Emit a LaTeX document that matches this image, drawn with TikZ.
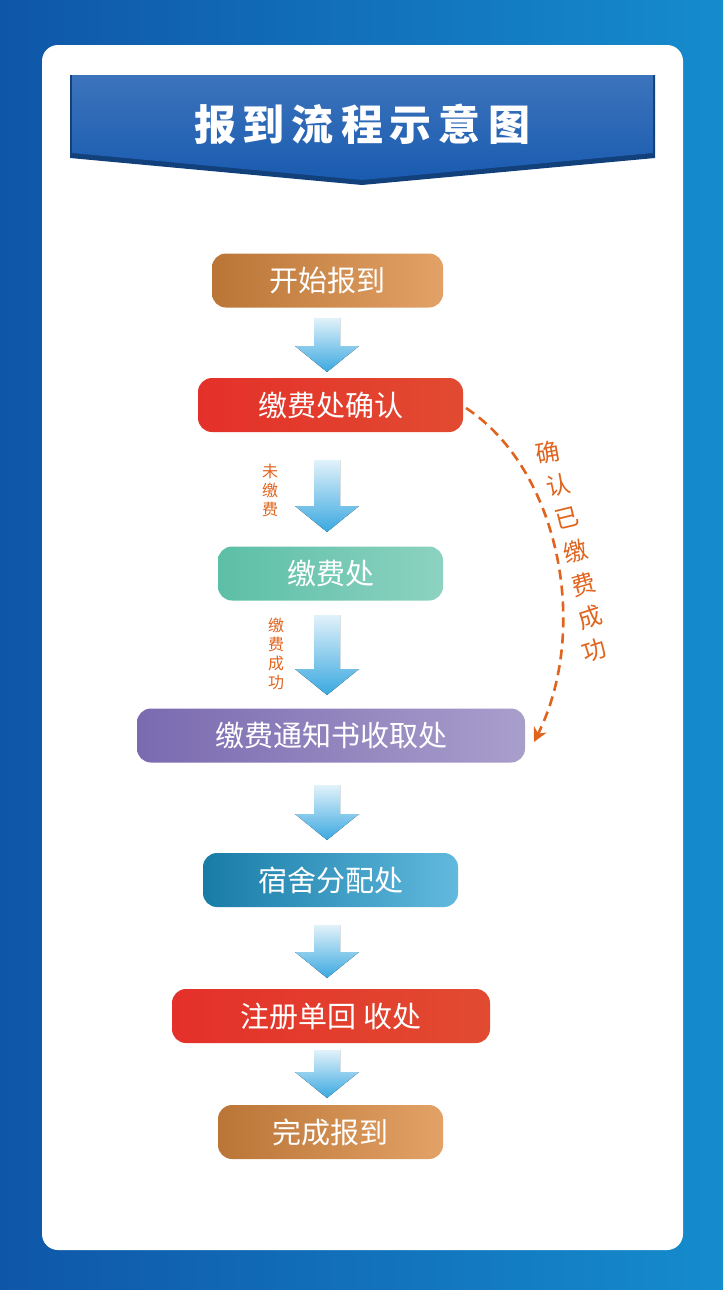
\documentclass[tikz,border=0pt]{standalone}
\usepackage{fontspec}
\newfontfamily\cjk{Noto Sans CJK SC}
\usetikzlibrary{arrows.meta}
\definecolor{bgblue}{HTML}{1A6FC0}
\definecolor{bgdark}{HTML}{0F56A8}
\definecolor{ttl}{HTML}{1A5BB0}
\definecolor{orng}{HTML}{DB8A40}
\definecolor{redb}{HTML}{E4302A}
\definecolor{teal}{HTML}{5CBFA6}
\definecolor{purp}{HTML}{7A6AB0}
\definecolor{cyanb}{HTML}{1E9BD0}
\definecolor{arw}{HTML}{3AA8E0}
\definecolor{lbl}{HTML}{E0641E}
\tikzset{
 stepbox/.style={rounded corners=7pt,minimum height=27pt,text=white,font=\cjk\fontsize{14.5}{16}\selectfont,inner sep=0pt},
 barrow/.style={top color=arw!15,bottom color=arw,draw=none},
 smalllbl/.style={text=lbl,font=\cjk\fontsize{8}{9.5}\selectfont,align=center,inner sep=0pt},
}
\newcommand{\blockarrow}[3]{% x, ytop, ybottom
 \fill[barrow] (#1-13,#2) -- (#1+13,#2) -- (#1+13,#3-26) -- (#1+32,#3-26) -- (#1,#3) -- (#1-32,#3-26) -- (#1-13,#3-26) -- cycle;}
\begin{document}
\begin{tikzpicture}[x=0.5pt,y=-0.5pt]
\useasboundingbox (0,0) rectangle (723,1290);
\shade[left color=bgdark,right color=bgblue!80!cyan] (0,0) rectangle (723,1290);
\fill[white,rounded corners=8pt] (42,45) rectangle (683,1250);
\fill[ttl!70!black] (70,75) -- (655,75) -- (655,158) -- (362,185) -- (70,158) -- cycle;
\shade[top color=ttl!85!white,bottom color=ttl] (72,75) -- (653,75) -- (653,153) -- (362,180) -- (72,153) -- cycle;
\node[text=white,font=\cjk\bfseries\fontsize{21}{24}\selectfont] (title) at (362,124) {报\,到\,流\,程\,示\,意\,图};
\node[stepbox,left color=orng!85!black,right color=orng!80!white,minimum width=115.5pt] (s1) at (327.5,280.5) {开始报到};
\node[stepbox,left color=redb,right color=redb!70!orng,minimum width=132.5pt] (s2) at (330.5,405) {缴费处确认};
\node[stepbox,left color=teal,right color=teal!70!white,minimum width=112.5pt] (s3) at (330.5,573.5) {缴费处};
\node[stepbox,left color=purp,right color=purp!65!white,minimum width=194pt] (s4) at (331,735.5) {缴费通知书收取处};
\node[stepbox,left color=cyanb!80!black,right color=cyanb!70!white,minimum width=127.5pt] (s5) at (330.5,880) {宿舍分配处};
\node[stepbox,left color=redb,right color=redb!70!orng,minimum width=159pt] (s6) at (331,1016) {注册单回 收处};
\node[stepbox,left color=orng!85!black,right color=orng!80!white,minimum width=112.5pt] (s7) at (330.5,1132) {完成报到};
\blockarrow{327}{318}{372}
\blockarrow{327}{460}{532}
\blockarrow{327}{615}{695}
\blockarrow{327}{785}{840}
\blockarrow{327}{925}{978}
\blockarrow{327}{1050}{1098}
\node[smalllbl] (l1) at (270,490) {未\\缴\\费};
\node[smalllbl] (l2) at (276,654) {缴\\费\\成\\功};
\coordinate (c1) at (466,408);
\coordinate (c2) at (534,742);
\draw[lbl,line width=1.3pt,dash pattern=on 5pt off 3pt,-{Stealth[length=7pt,width=7pt]}] (c1) .. controls (560,470) and (590,630) .. (c2);
\foreach \ch/\x/\y/\r in {确/548/452/10,认/558/485/12,已/567/518/14,缴/576/551/16,费/584/584/16,成/590/617/18,功/594/650/18}
 \node[text=lbl,font=\cjk\fontsize{12}{13}\selectfont,rotate=\r] at (\x,\y) {\ch};
\end{tikzpicture}
\end{document}
